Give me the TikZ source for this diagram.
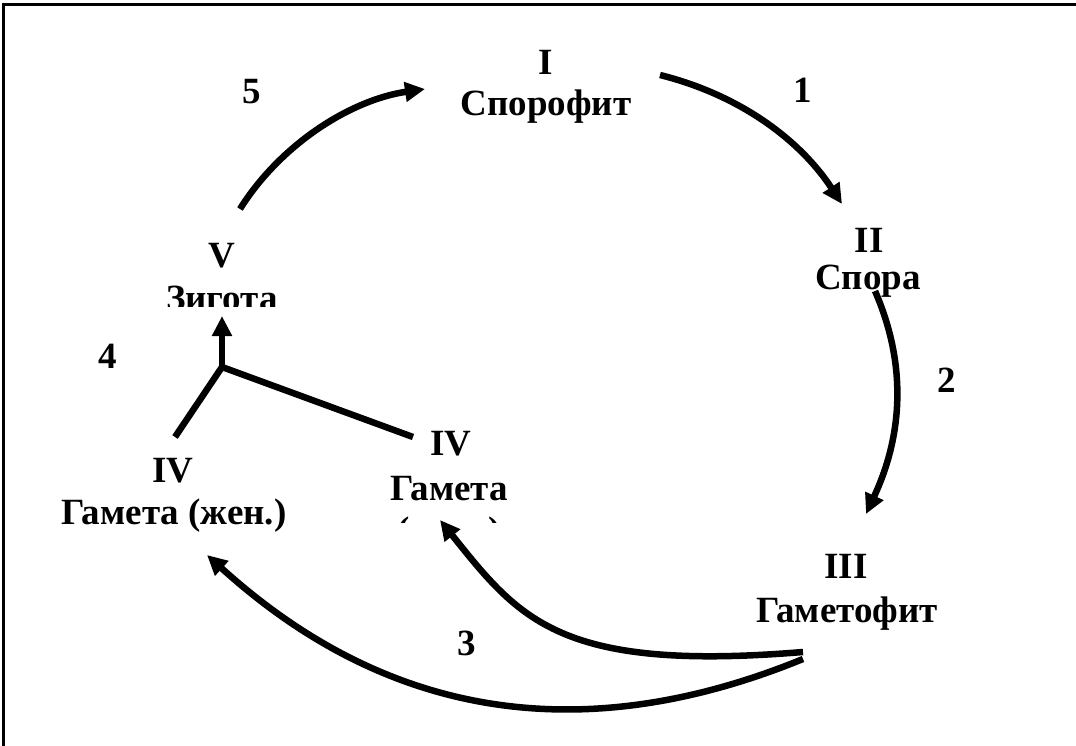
\documentclass[tikz,border=0pt]{standalone}
\usepackage{fontspec}
\setmainfont{Liberation Serif}
\usetikzlibrary{arrows.meta}
\begin{document}
\begin{tikzpicture}[x=1pt,y=-1pt,
  lbl/.style={font=\fontsize{37}{42}\selectfont\bfseries, inner sep=0pt, anchor=base},
  arr/.style={line width=6.5pt, -{Triangle[length=20pt,width=19pt]}},
  ln/.style={line width=6.5pt},
  frame/.style={line width=3pt}]
\useasboundingbox (0,0) rectangle (1076,746);
\coordinate (fb) at (3,746);
\coordinate (fc) at (3,5);
\coordinate (fr) at (1080,5);
\draw[frame] (fb) -- (fc) -- (fr);

% labels
\node[lbl] (nI) at (546,75) {I};
\node[lbl] (spor) at (546,116) {Спорофит};
\node[lbl] (nII) at (869,252) {II};
\node[lbl] (spora) at (868,289) {Спора};
\node[lbl] (nIII) at (846,578) {III};
\node[lbl] (gamf) at (847,622) {Гаметофит};
\node[lbl] (nIVa) at (173,482) {IV};
\node[lbl] (gamw) at (174,524) {Гамета (жен.)};
\node[lbl] (nIVb) at (451,455) {IV};
\node[lbl] (gamm) at (449,500) {Гамета};
\begin{scope}
  \clip (300,505) rectangle (600,522);
  \node[lbl] (mal) at (449,542) {(муж.)};
\end{scope}
\node[lbl] (nV) at (222,267) {V};
\begin{scope}
  \clip (100,270) rectangle (350,306);
  \node[lbl] (zyg) at (222,310) {Зигота};
\end{scope}

% numbers
\node[lbl] (k1) at (803,103) {1};
\node[lbl] (k2) at (947,392) {2};
\node[lbl] (k3) at (467,655) {3};
\node[lbl] (k4) at (108,368) {4};
\node[lbl] (k5) at (252,104) {5};

% arrow ends
\coordinate (a1s) at (660,75);
\coordinate (a1e) at (842,204);
\coordinate (a2s) at (875,291);
\coordinate (a2e) at (866,514);
\coordinate (a3s) at (803,652);
\coordinate (a3e) at (440,520);
\coordinate (a3bs) at (803,659);
\coordinate (a3be) at (207,555);
\coordinate (junc) at (222,367);
\coordinate (gl) at (175,437);
\coordinate (gr) at (413,437);
\coordinate (ztip) at (222,316);
\coordinate (a5s) at (240,209);
\coordinate (a5e) at (425,89);

\draw[arr] (a1s) .. controls (740,95) and (800,140) .. (a1e);
\draw[arr] (a2s) .. controls (905,360) and (905,430) .. (a2e);
\draw[arr] (a3s) .. controls (560,672) and (520,620) .. (a3e);
\draw[arr] (a3bs) .. controls (600,742) and (400,730) .. (a3be);
\draw[ln] (gl) -- (junc) -- (gr);
\draw[arr] (junc) -- (ztip);
\draw[arr] (a5s) .. controls (280,145) and (350,100) .. (a5e);
\end{tikzpicture}
\end{document}
